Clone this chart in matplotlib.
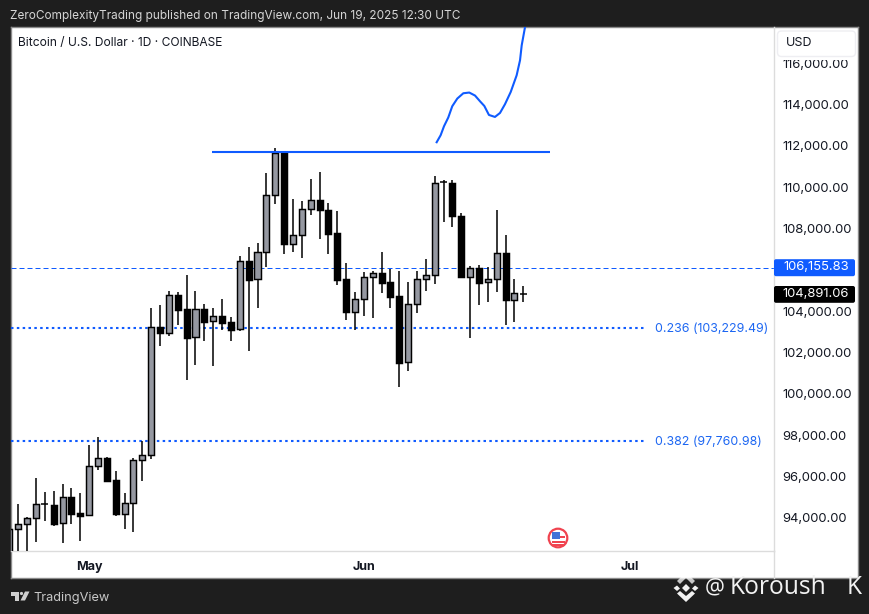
import pandas as pd
import matplotlib
matplotlib.use("Agg")
import matplotlib.pyplot as plt
import matplotlib.dates as mdates
from matplotlib.patches import Rectangle, FancyBboxPatch, Circle, Polygon
from matplotlib.transforms import Affine2D, ScaledTranslation

plt.rcParams['font.family'] = ['Inter', 'DejaVu Sans']

W, H = 869, 614
start_date = "2025-04-22"
opens = [91000, 93488, 93730, 94020, 94690, 94649, 93778, 95036, 94262, 94165, 96536, 96924, 95859, 94246, 94746,
         96827, 97069, 103263, 102972, 104811, 104135, 102780, 104135, 103554, 103796, 103506, 103167, 106458, 105587,
         106893, 109700, 111732, 107313, 107764, 109022, 109458, 108974, 107813, 105603, 104022, 104619, 105683,
         105877, 105441, 104764, 101570, 104377, 105586, 105780, 110310, 110280, 108683, 105683, 106119, 105441,
         105586, 106845, 104570, 104909]
highs = [93600, 94714, 94069, 95956, 95278, 95343, 95665, 95472, 95230, 97569, 97940, 96972, 96294, 95230, 96924,
         97778, 104182, 104343, 105005, 104956, 105780, 105006, 104393, 104183, 104619, 103748, 106716, 107135, 107329,
         110764, 111974, 111829, 109506, 109377, 110474, 110813, 109313, 108926, 106377, 104974, 105941, 105974,
         106893, 106070, 105974, 105441, 105974, 106554, 110619, 110425, 110425, 108829, 106216, 106264, 106167,
         108974, 107764, 105586, 105264]
lows = [90500, 92000, 92300, 92891, 93907, 93649, 92843, 93762, 92939, 94165, 96375, 95794, 94149, 93520, 93375,
        95843, 96907, 102375, 102859, 103392, 100732, 101458, 102619, 101409, 103151, 102619, 103100, 102135, 104216,
        106167, 109248, 106829, 106926, 106635, 108716, 107555, 106829, 105329, 103635, 103151, 103828, 103732,
        104941, 104215, 100393, 101167, 103973, 105038, 105377, 108377, 108135, 105715, 102764, 104361, 104506,
        104990, 103393, 103538, 104506]
closes = [93504, 93730, 94020, 94698, 94700, 93762, 95036, 94246, 94149, 96536, 96924, 95843, 94246, 94746, 96827,
          97069, 103263, 102972, 104811, 104117, 102764, 104135, 103538, 103796, 103490, 103151, 106458, 105571,
          106893, 109700, 111732, 107313, 107764, 109022, 109458, 108958, 107797, 105571, 104022, 104619, 105683,
          105877, 105425, 104748, 101554, 104377, 105586, 105780, 110280, 110300, 108667, 105715, 106119, 105425,
          105586, 106845, 104570, 104909, 104891.06]

y_ticks = [94000, 96000, 98000, 100000, 102000, 104000, 108000, 110000, 112000, 114000, 116000]
month_names = ["May", "Jun", "Jul"]
month_dates = ["2025-05-01", "2025-06-01", "2025-07-01"]

last_price_marker = 104891.06
ref_price = 106155.83
fib_levels = [103229.49, 97760.98]
fib_names = ["0.236 (103,229.49)", "0.382 (97,760.98)"]
resistance_price = 111748
resistance_days = [22.86, 61.0]
fib_end_day = 71.85
forecast_days = [48.22, 48.67, 49.05, 49.53, 49.98, 50.55, 51.23, 51.90, 52.55, 53.11, 53.6, 54.12, 54.80, 55.37,
                 55.93, 56.58, 57.25, 57.63, 57.82, 58.19]
forecast_prices = [112232, 112571, 113007, 113428, 113975, 114347, 114604, 114638, 114493, 114217, 113989, 113554,
                   113457, 113650, 114072, 114667, 115475, 116201, 116927, 117798]

BG = "#1e1e1e"
BLUE = "#0f5bff"
GREY = "#9598a1"

fig = plt.figure(figsize=(W / 100, H / 100), dpi=100, facecolor=BG)
px = Affine2D().scale(1 / W, -1 / H).translate(0, 1) + fig.transFigure


def axes_rect(l, t, r, b):
    return [l / W, 1 - b / H, (r - l) / W, (b - t) / H]


# white panel with axis strips
panel = fig.add_axes(axes_rect(10.5, 27.3, 858.3, 578), facecolor="white", zorder=0)
panel.set_xticks([]); panel.set_yticks([])
for s in panel.spines.values():
    s.set_color("#8a8a8a"); s.set_linewidth(1.0)

ax = fig.add_axes(axes_rect(10.5, 27.3, 773.5, 551), facecolor="none", zorder=1)
base = mdates.date2num(pd.Timestamp(start_date))
ax.set_xlim(base + 0.12, base + 86.24)
ax.set_ylim(92437, 117798)
ax.xaxis_date()
dates = mdates.date2num(pd.date_range(start_date, periods=len(opens)))

for s in ("top", "left"):
    ax.spines[s].set_visible(False)
ax.spines["right"].set_color("#dcdcdc"); ax.spines["bottom"].set_color("#dcdcdc")
ax.spines["right"].set_linewidth(1.0); ax.spines["bottom"].set_linewidth(1.0)
# separator of the price scale goes on down through the time strip
fig.add_artist(plt.Line2D([773.5, 773.5], [551, 577.5], transform=px, color="#dcdcdc", lw=1.0))

ax.yaxis.tick_right()
ax.set_yticks(y_ticks)
ax.set_yticklabels([f"{v:,.2f}" for v in y_ticks], fontsize=9.4, color="#131722")
ax.tick_params(axis="y", length=0, pad=6.6)
for lab in ax.get_yticklabels():
    lab.set_transform(lab.get_transform() + ScaledTranslation(0, 0.8 / 72, fig.dpi_scale_trans))
ax.set_xticks(mdates.date2num(pd.to_datetime(month_dates)))
ax.set_xticklabels(month_names, fontsize=9, color="#131722", fontweight="bold")
ax.tick_params(axis="x", length=0, pad=7)

# levels (behind candles)
ax.axhline(ref_price, color=BLUE, lw=0.72, dashes=(5, 3), zorder=1)
for lvl, name in zip(fib_levels, fib_names):
    ax.plot([base + 0.12, base + fib_end_day], [lvl, lvl], color=BLUE, lw=1.5,
            dashes=(1.2, 1.6), zorder=1, dash_capstyle="butt")
    ax.annotate(name, xy=(base + fib_end_day, lvl), xytext=(9, -0.5), textcoords="offset pixels",
                color="#1c66f2", fontsize=8.9, va="center", ha="left")

# candles
ax.vlines(dates, lows, highs, color="black", lw=1.1, zorder=3)
for d, o, c in zip(dates, opens, closes):
    bottom, top = min(o, c), max(o, c)
    face = GREY if c > o else "black"
    if top - bottom < 40:
        ax.plot([d - 0.4, d + 0.4], [c, c], color="black", lw=1.1, zorder=4, solid_capstyle="butt")
    else:
        ax.add_patch(Rectangle((d - 0.34, bottom), 0.68, top - bottom, facecolor=face,
                               edgecolor="black", lw=1.05, zorder=4))

# drawings
ax.plot(base + pd.Series(resistance_days), [resistance_price] * 2, color=BLUE, lw=1.5, zorder=5,
        solid_capstyle="butt")
ax.plot(base + pd.Series(forecast_days), forecast_prices, color=BLUE, lw=1.5, zorder=5)

# price labels & USD box
kw = dict(transform=px, clip_on=False, zorder=20)
ax.add_patch(FancyBboxPatch((774, 259.2), 81, 17, boxstyle="round,pad=0,rounding_size=2",
                            facecolor="#0f5bff", edgecolor="none", **kw))
ax.add_patch(FancyBboxPatch((774, 286), 81, 16.8, boxstyle="round,pad=0,rounding_size=2",
                            facecolor="black", edgecolor="none", **kw))
ax.text(849, 267.3, f"{ref_price:,.2f}", color="white", fontsize=9.4, ha="right", va="center",
        transform=px, clip_on=False, zorder=21)
ax.text(849, 293.9, f"{last_price_marker:,.2f}", color="white", fontsize=9.4, ha="right", va="center",
        transform=px, clip_on=False, zorder=21)
ax.add_patch(Rectangle((777, 55), 79, 4.5, facecolor="white", edgecolor="none", **kw))
ax.add_patch(FancyBboxPatch((777.5, 31), 78, 25.5, boxstyle="round,pad=0,rounding_size=4",
                            facecolor="white", edgecolor="#eeeef2", lw=1.0, **kw))
ax.text(786, 43.5, "USD", color="#131722", fontsize=9.0, ha="left", va="center",
        transform=px, clip_on=False, zorder=21)

# flag badge
fc = (558, 538)
ax.add_patch(Circle(fc, 9.3, facecolor="white", edgecolor="#f0434f", lw=1.6, **kw))
for yy, hh in ((535.5, 2.4), (540.5, 2.2), (544.0, 1.8)):
    ax.add_patch(Rectangle((551.5, yy), 13, hh, facecolor="#f0434f", edgecolor="none", **kw))
ax.add_patch(Rectangle((551.5, 531.5), 8, 7.5, facecolor="#3f73d8", edgecolor="none", **kw))

# header / footer text
fig.text(10 / W, 1 - 15.5 / H, "ZeroComplexityTrading published on TradingView.com, Jun 19, 2025 12:30 UTC",
         color="#d6d6d6", fontsize=8.5, va="center", ha="left")
ax.text(18, 43, "Bitcoin / U.S. Dollar · 1D · COINBASE", color="#131722", fontsize=8.65, va="center", ha="left",
        transform=px, clip_on=False, zorder=21)
fig.text(33.5 / W, 1 - 598 / H, "TradingView", color="#c8c8c8", fontsize=9.2, va="center", ha="left", zorder=30)

# TradingView logo
over = fig.add_axes([0, 0, 1, 1], facecolor="none", zorder=5)
over.set_axis_off()
over.set_xlim(0, W); over.set_ylim(H, 0)
LOGO = "#d0d0d0"
over.add_patch(Polygon([(10.5, 591.5), (19, 591.5), (19, 600.5), (15, 600.5), (15, 595.5), (10.5, 595.5)],
                       facecolor=LOGO, edgecolor="none"))
over.add_patch(Circle((21.5, 593.5), 1.6, facecolor=LOGO, edgecolor="none"))
over.add_patch(Polygon([(25, 591.5), (29.5, 591.5), (25, 600.5), (20.5, 600.5)], facecolor=LOGO, edgecolor="none"))

# Binance-style watermark mark
WM = "#f2f2f2"
over.add_patch(Polygon([(686, 584), (690, 588), (686, 592), (682, 588)], facecolor=WM, edgecolor="none"))
over.add_patch(Polygon([(677, 585.5), (680, 588.5), (677, 591), (673.5, 588)], facecolor=WM, edgecolor="none"))
over.add_patch(Polygon([(695, 585.5), (698.5, 588), (695, 591), (692, 588.5)], facecolor=WM, edgecolor="none"))
over.add_patch(Polygon([(686, 572), (695, 581), (692, 584), (686, 578), (680, 584), (677, 581)],
                       facecolor="white", edgecolor="none", alpha=0.75))
over.add_patch(Polygon([(686, 602), (677, 593.5), (680, 591), (686, 596), (692, 591), (695, 593.5)],
                       facecolor=WM, edgecolor="none"))
over.text(705, 588, "@", color=WM, fontsize=16, va="center", ha="left", family=["Open Sans", "DejaVu Sans"])
over.text(730, 588, "Koroush", color=WM, fontsize=17.7, va="center", ha="left", family=["Open Sans", "DejaVu Sans"])
over.text(847, 588, "K", color=WM, fontsize=17.7, va="center", ha="left", family=["Open Sans", "DejaVu Sans"])

fig.savefig("out.png", dpi=100, facecolor=BG)
